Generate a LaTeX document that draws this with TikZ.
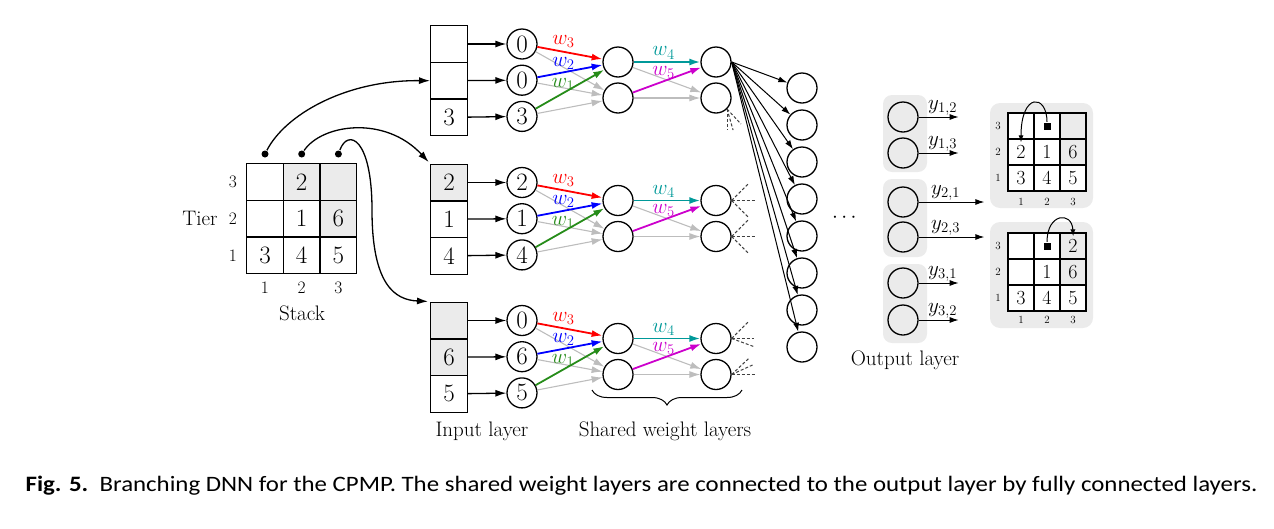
\RequirePackage{fix-cm}
\documentclass[tikz,border=0pt]{standalone}
\usepackage{amsmath,amssymb}
\usepackage{fontspec}
\newfontfamily\capfont{Carlito}
\usepackage{tikz}
\usetikzlibrary{arrows.meta,decorations.pathreplacing}
\definecolor{shade}{gray}{0.92}
\definecolor{lgray}{gray}{0.74}
\definecolor{wred}{rgb}{1,0,0}
\definecolor{wblue}{rgb}{0,0,1}
\definecolor{wgreen}{rgb}{0.15,0.55,0.1}
\definecolor{wteal}{rgb}{0,0.6,0.6}
\definecolor{wmag}{rgb}{0.8,0,0.8}

\begin{document}
\begin{tikzpicture}[x=1pt,y=-1pt,line width=1.3pt,>={Latex[length=11pt,width=7pt]},
  cell/.style={draw,minimum size=36.7pt,inner sep=0pt,font=\fontsize{25}{30}\selectfont},
  scell/.style={draw,minimum size=26pt,inner sep=0pt,font=\fontsize{20}{24}\selectfont},
  neuron/.style={circle,draw,minimum size=30pt,inner sep=0pt,font=\fontsize{25}{30}\selectfont},
  lbl/.style={font=\fontsize{21}{25}\selectfont},
  tick/.style={font=\fontsize{17.5}{21}\selectfont},
  stick/.style={font=\fontsize{11}{13}\selectfont},
  gr/.style={draw=lgray,line width=1.1pt},
  wt/.style={line width=1.8pt},
  dot/.style={circle,fill,inner sep=0pt,minimum size=7pt},
  sq/.style={fill,inner sep=0pt,minimum size=7pt},
  stub/.style={draw=darkgray,line width=1pt,dash pattern=on 3pt off 2pt},
  grp/.style={fill=shade,rounded corners=9pt,inner sep=0pt},
  fan/.style={line width=1pt,-{Latex[length=9pt,width=6pt]}},
  arc/.style={line width=1pt,-{Latex[length=7pt,width=5pt]}}]
\useasboundingbox (0,0) rectangle (1274,528);

\foreach \c/\t/\v/\f in {1/3//white,2/3/2/shade,3/3//shade,1/2//white,2/2/1/white,3/2/6/shade,1/1/3/white,2/1/4/white,3/1/5/white}
  \node[cell,fill=\f] (s\c\t) at (228.3+36.7*\c,292.1-36.7*\t) {\v};
\foreach \i in {1,2,3} {
  \node[tick] (st\i) at (233,292.1-36.7*\i) {\i};
  \node[tick] (sc\i) at (228.3+36.7*\i,288) {\i};
  \node[dot] (d\i) at (228.3+36.7*\i,154) {};
}
\node[lbl] (tier) at (200,218.5) {Tier};
\node[lbl] (stack) at (302,313) {Stack};

\foreach \b/\yy/\ta/\tb/\tc/\na/\nb/\nc/\fa/\fb in {a/44/{}/{}/3/0/0/3/white/white,b/182.5/2/1/4/2/1/4/shade/white,c/320.5/{}/6/5/0/6/5/shade/shade}
{
  \node[cell,fill=\fa] (\b-box1) at (449,\yy) {\ta};
  \node[cell,fill=\fb] (\b-box2) at (449,\yy+36.7) {\tb};
  \node[cell] (\b-box3) at (449,\yy+73.4) {\tc};
  \node[neuron] (\b-in1) at (522,\yy) {\na};
  \node[neuron] (\b-in2) at (522,\yy+36.2) {\nb};
  \node[neuron] (\b-in3) at (522,\yy+72.4) {\nc};
  \node[neuron] (\b-p1) at (618,\yy+18) {};
  \node[neuron] (\b-p2) at (618,\yy+54) {};
  \node[neuron] (\b-q1) at (716,\yy+18) {};
  \node[neuron] (\b-q2) at (716,\yy+54) {};
  \foreach \i in {1,2,3} {
    \draw[->] (\b-box\i) -- (\b-in\i);
    \draw[->,gr] (\b-in\i) -- (\b-p2);
  }
  \draw[->,gr] (\b-p1) -- (\b-q2);
  \draw[->,gr] (\b-p2) -- (\b-q2);
  \draw[->,wt,wred] (\b-in1) -- node[pos=.4,above,lbl,inner sep=3pt] {$w_3$} (\b-p1);
  \draw[->,wt,wblue] (\b-in2) -- node[pos=.4,above,lbl,inner sep=2pt] {$w_2$} (\b-p1);
  \draw[->,wt,wgreen] (\b-in3) -- node[pos=.4,above,lbl,inner sep=2pt] {$w_1$} (\b-p1);
  \draw[->,wt,wteal] (\b-p1) -- node[pos=.45,above,lbl,inner sep=2pt] {$w_4$} (\b-q1);
  \draw[->,wt,wmag] (\b-p2) -- node[pos=.45,above,lbl,inner sep=2pt] {$w_5$} (\b-q1);
}

\draw[->] (d1) .. controls (285,115) and (345,80) .. (a-box2.west);
\draw[->,shorten >=2pt] (d2) .. controls (322,124) and (385,115) .. (b-box1.north west);
\draw[->,shorten >=2pt] (d3) .. controls (348,128) and (372,138) .. (372,210) .. controls (372,285) and (395,300) .. (c-box1.north west);

\foreach \dx/\dy in {0/21,6/21,14/15} \draw[stub] (a-q2.-45) -- ++(\dx,\dy);
\foreach \q in {b-q1,b-q2} \foreach \dx/\dy in {17/-17,24/0,17/17} \draw[stub] (\q.east) -- ++(\dx,\dy);
\foreach \dx/\dy in {17/-17,22/0,22/8} \draw[stub] (c-q1.east) -- ++(\dx,\dy);
\foreach \dx/\dy in {17/-16,22/-10,24/0} \draw[stub] (c-q2.east) -- ++(\dx,\dy);

\foreach \i in {1,...,8} {
  \node[neuron] (o\i) at (802,51+37*\i) {};
  \draw[fan] (a-q1.east) -- (o\i);
}
\node[lbl] (dots) at (846,218) {$\cdots$};

\draw[decorate,decoration={brace,mirror,amplitude=15pt},line width=1pt] (592,390) -- (742,390);
\node[lbl] (inlbl) at (482,431) {Input layer};
\node[lbl] (shlbl) at (665,431) {Shared weight layers};

\node[grp,minimum width=44pt,minimum height=77pt] (g1) at (905,133.5) {};
\node[grp,minimum width=44pt,minimum height=78pt] (g2) at (905,218) {};
\node[grp,minimum width=44pt,minimum height=79pt] (g3) at (905,303.5) {};
\node[grp,minimum width=103pt,minimum height=105pt,rounded corners=10pt] (pA) at (1041.5,155.5) {};
\node[grp,minimum width=103pt,minimum height=106pt,rounded corners=10pt] (pB) at (1041.5,275) {};
\foreach \r/\yy in {12/117,13/153,21/202,23/237,31/283,32/320}
  \node[neuron] (r\r) at (903,\yy) {};
\foreach \r/\s in {12/{1,2},13/{1,3},31/{3,1},32/{3,2}}
  \draw[fan] (r\r.east) -- ++(40,0) node[pos=.6,above,lbl,inner sep=1pt] {$y_{\s}$};
\draw[fan,shorten >=5pt] (r21.east) -- (r21.east -| pA.west) node[pos=.38,above,lbl,inner sep=1pt] {$y_{2,1}$};
\draw[fan,shorten >=5pt] (r23.east) -- (r23.east -| pB.west) node[pos=.38,above,lbl,inner sep=1pt] {$y_{2,3}$};
\node[lbl] (outlbl) at (905,360) {Output layer};

\foreach \c/\t/\v/\f in {1/3//white,2/3//white,3/3//shade,1/2/2/white,2/2/1/white,3/2/6/shade,1/1/3/white,2/1/4/white,3/1/5/white}
  \node[scell,fill=\f] (A\c\t) at (995+26*\c,204-26*\t) {\v};
\foreach \c/\t/\v/\f in {1/3//white,2/3//white,3/3/2/shade,1/2//white,2/2/1/white,3/2/6/shade,1/1/3/white,2/1/4/white,3/1/5/white}
  \node[scell,fill=\f] (B\c\t) at (995+26*\c,324-26*\t) {\v};
\foreach \i in {1,2,3} {
  \node[stick] (At\i) at (998,204-26*\i) {\i};
  \node[stick] (Ac\i) at (995+26*\i,202) {\i};
  \node[stick] (Bt\i) at (998,324-26*\i) {\i};
  \node[stick] (Bc\i) at (995+26*\i,320) {\i};
}
\node[sq] (Asq) at (A23) {};
\node[sq] (Bsq) at (B23) {};
\draw[arc,shorten >=-4pt] (Asq.north) .. controls (1047,94) and (1021,92) .. (A12.north);
\draw[arc,shorten >=-4pt] (Bsq.north) .. controls (1047,213) and (1072,211) .. (B33.north);

\node[anchor=west,inner sep=0pt,font=\capfont\fontsize{22}{26}\selectfont] (cap) at (25,486) {\scalebox{1.13}[1]{\textbf{Fig. 5.}\ \ Branching DNN for the CPMP. The shared weight layers are connected to the output layer by fully connected layers.}};
\end{tikzpicture}
\end{document}
